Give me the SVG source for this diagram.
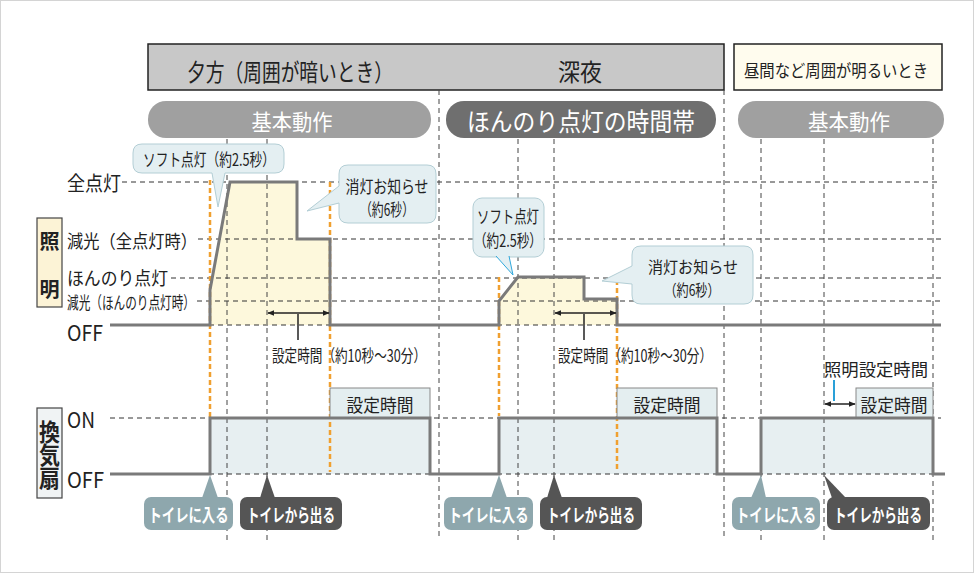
<svg xmlns="http://www.w3.org/2000/svg" width="976" height="575" viewBox="0 0 976 575">
<defs>
<style>
.t{font-family:"Noto Sans CJK JP","Noto Sans",sans-serif;fill:#222;dominant-baseline:central}
.v{font-family:"Noto Sans CJK JP","Noto Sans",sans-serif;fill:#222;font-weight:bold;writing-mode:vertical-rl;text-anchor:middle}
.m{text-anchor:middle}
.w{fill:#fff}
.b{font-weight:bold}
.grid{stroke:#333;stroke-width:1;stroke-dasharray:5 4;fill:none}
.vgrid{stroke:#444;stroke-width:1;stroke-dasharray:5 4;fill:none}
.org{stroke:#f0a030;stroke-width:2.5;stroke-dasharray:5 3;fill:none}
.wave{stroke:#7a7a7a;stroke-width:3;fill:none}
.bal{fill:#e4eff2;stroke:#b3ced5;stroke-width:1}
.yel{fill:#fdf8dc}
.fan{fill:#e7eff1}
.tab{fill:#e4eef0;stroke:#888;stroke-width:1}
.in{fill:#8ea7ad}
.out{fill:#555}
.arr{stroke:#222;stroke-width:1.5;fill:none}
</style>
<marker id="ah" viewBox="0 0 10 10" refX="9" refY="5" markerWidth="7" markerHeight="7" orient="auto-start-reverse" markerUnits="userSpaceOnUse">
<path d="M0,1 L10,5 L0,9 Z" fill="#222"/>
</marker>
</defs>
<rect x="0.5" y="0.5" width="973" height="572" fill="#fff" stroke="#d4d4d4"/>

<g id="header">
<rect x="148" y="44" width="576" height="46" fill="#c8c8c8" stroke="#222" stroke-width="1.5"/>
<text class="t m" x="290" y="70" font-size="24" textLength="206" lengthAdjust="spacingAndGlyphs">夕方（周囲が暗いとき）</text>
<text class="t m" x="580" y="70" font-size="24" textLength="44" lengthAdjust="spacingAndGlyphs">深夜</text>
<rect x="734" y="44" width="208" height="46" fill="#fffcee" stroke="#222" stroke-width="1.5"/>
<text class="t m" x="836" y="69" font-size="17" textLength="184" lengthAdjust="spacingAndGlyphs">昼間など周囲が明るいとき</text>
</g>

<g id="pills">
<rect x="148" y="101" width="283" height="37" rx="18" fill="#a0a0a0"/>
<text class="t m w" x="292" y="120" font-size="22" textLength="81" lengthAdjust="spacingAndGlyphs">基本動作</text>
<rect x="446" y="101" width="270" height="37" rx="18" fill="#6f6f6f"/>
<text class="t m w" x="581" y="120" font-size="25" textLength="228" lengthAdjust="spacingAndGlyphs">ほんのり点灯の時間帯</text>
<rect x="738" y="101" width="206" height="37" rx="18" fill="#a0a0a0"/>
<text class="t m w" x="849" y="120" font-size="22" textLength="82" lengthAdjust="spacingAndGlyphs">基本動作</text>
</g>

<g id="fills">
<polygon class="yel" points="210,325 210,290 230,182 297,182 297,239 330,239 330,325"/>
<polygon class="yel" points="499,325 499,301 518,277 584,277 584,299 617,299 617,325"/>
<rect class="fan" x="210" y="418" width="220" height="56"/>
<rect class="fan" x="499" y="418" width="218" height="56"/>
<rect class="fan" x="761" y="418" width="172" height="56"/>
</g>

<g id="grid">
<line class="grid" x1="122" y1="182" x2="941" y2="182"/>
<line class="grid" x1="198" y1="239" x2="941" y2="239"/>
<line class="grid" x1="171" y1="278" x2="941" y2="278"/>
<line class="grid" x1="197" y1="301" x2="941" y2="301"/>
<line class="grid" x1="110" y1="325" x2="941" y2="325"/>
<line class="grid" x1="110" y1="418" x2="941" y2="418"/>
<line class="grid" x1="110" y1="474" x2="941" y2="474"/>
<line class="vgrid" x1="227" y1="139" x2="227" y2="540"/>
<line class="vgrid" x1="267" y1="139" x2="267" y2="540"/>
<line class="vgrid" x1="439" y1="90" x2="439" y2="540"/>
<line class="vgrid" x1="518" y1="139" x2="518" y2="540"/>
<line class="vgrid" x1="554" y1="139" x2="554" y2="540"/>
<line class="vgrid" x1="724" y1="90" x2="724" y2="540"/>
<line class="vgrid" x1="761" y1="139" x2="761" y2="540"/>
<line class="vgrid" x1="824" y1="139" x2="824" y2="540"/>
<line class="vgrid" x1="933" y1="139" x2="933" y2="540"/>
</g>

<g id="labels">
<text class="t" x="67" y="182" font-size="20" textLength="54" lengthAdjust="spacingAndGlyphs">全点灯</text>
<text class="t" x="67" y="240" font-size="18" textLength="130" lengthAdjust="spacingAndGlyphs">減光（全点灯時）</text>
<text class="t" x="67" y="277" font-size="18" textLength="101" lengthAdjust="spacingAndGlyphs">ほんのり点灯</text>
<text class="t" x="67" y="301" font-size="17" textLength="128" lengthAdjust="spacingAndGlyphs">減光（ほんのり点灯時）</text>
<text class="t" x="67" y="332" font-size="21" textLength="36" lengthAdjust="spacingAndGlyphs">OFF</text>
<text class="t" x="67" y="419" font-size="21" textLength="28" lengthAdjust="spacingAndGlyphs">ON</text>
<text class="t" x="67" y="479" font-size="21" textLength="37" lengthAdjust="spacingAndGlyphs">OFF</text>
</g>

<g id="lightBox">
<rect x="37" y="218" width="25" height="89" fill="#fcf3d6" stroke="#444" stroke-width="1.2"/>
<text class="v" x="49.5" y="265" font-size="20" textLength="68" lengthAdjust="spacing">照明</text>
</g>
<g id="fanBox">
<rect x="37" y="408" width="25" height="90" fill="#f0f3f4" stroke="#444" stroke-width="1.2"/>
<text class="v" x="49.5" y="455" font-size="21" textLength="70" lengthAdjust="spacingAndGlyphs">換気扇</text>
</g>

<g id="orange">
<line class="org" x1="210" y1="180" x2="210" y2="417"/>
<line class="org" x1="330" y1="182" x2="330" y2="472"/>
<line class="org" x1="499" y1="277" x2="499" y2="416"/>
<line class="org" x1="617" y1="280" x2="617" y2="472"/>
</g>

<g id="tabs">
<rect class="tab" x="330" y="388" width="100" height="30"/>
<text class="t m" x="380" y="404" font-size="18" textLength="67" lengthAdjust="spacingAndGlyphs">設定時間</text>
<rect class="tab" x="617" y="388" width="100" height="30"/>
<text class="t m" x="667" y="404" font-size="18" textLength="67" lengthAdjust="spacingAndGlyphs">設定時間</text>
<rect class="tab" x="856" y="388" width="77" height="30"/>
<text class="t m" x="894" y="404" font-size="18" textLength="67" lengthAdjust="spacingAndGlyphs">設定時間</text>
</g>

<g id="connectors">
<path class="wave" d="M110,325 H210 V290 L230,182 H297 V239 H330 V325 H499 V301 L518,277 H584 V299 H617 V325 H941"/>
<path class="wave" d="M110,474 H210 V418 H430 V474 H499 V418 H717 V474 H761 V418 H933 V474 H945"/>
<line class="arr" x1="268" y1="313" x2="329" y2="313" marker-start="url(#ah)" marker-end="url(#ah)"/>
<line class="arr" x1="298" y1="314" x2="298" y2="340"/>
<line class="arr" x1="555" y1="313" x2="616" y2="313" marker-start="url(#ah)" marker-end="url(#ah)"/>
<line class="arr" x1="584" y1="314" x2="584" y2="340"/>
<line class="arr" x1="825" y1="404" x2="855" y2="404" marker-start="url(#ah)" marker-end="url(#ah)"/>
<line x1="834" y1="380" x2="834" y2="401" stroke="#2aa0d8" stroke-width="2"/>
</g>

<g id="setTimeLabels">
<text class="t" x="272" y="354" font-size="17" textLength="154" lengthAdjust="spacingAndGlyphs">設定時間（約10秒～30分）</text>
<text class="t" x="558" y="354" font-size="17" textLength="154" lengthAdjust="spacingAndGlyphs">設定時間（約10秒～30分）</text>
<text class="t m" x="876" y="368" font-size="17" textLength="104" lengthAdjust="spacingAndGlyphs">照明設定時間</text>
</g>

<g id="balloon1">
<path class="bal" d="M142,144 H275 Q284,144 284,153 V164 Q284,173 275,173 H225 L218,207 L212,173 H142 Q133,173 133,164 V153 Q133,144 142,144 Z"/>
<text class="t m" x="209" y="158" font-size="17" textLength="132" lengthAdjust="spacingAndGlyphs">ソフト点灯（約2.5秒）</text>
</g>
<g id="balloon2">
<path class="bal" d="M348,165 H427 Q436,165 436,174 V214 Q436,223 427,223 H348 Q339,223 339,214 V203 L307,211 L339,186 V174 Q339,165 348,165 Z"/>
<text class="t m" x="387" y="185" font-size="17" textLength="83" lengthAdjust="spacingAndGlyphs">消灯お知らせ</text>
<text class="t m" x="387" y="208" font-size="17" textLength="54" lengthAdjust="spacingAndGlyphs">（約6秒）</text>
</g>
<g id="balloon3">
<rect class="bal" x="473" y="198" width="71" height="59" rx="9"/>
<polyline points="496,256 513,275 509,256" fill="#e4eff2" stroke="#30a8dc" stroke-width="1"/>
<text class="t m" x="508" y="215" font-size="17" textLength="62" lengthAdjust="spacingAndGlyphs">ソフト点灯</text>
<text class="t m" x="508" y="239" font-size="17" textLength="68" lengthAdjust="spacingAndGlyphs">（約2.5秒）</text>
</g>
<g id="balloon4">
<path class="bal" d="M641,246 H744 Q753,246 753,255 V295 Q753,304 744,304 H641 Q632,304 632,295 V284 L602,281 L632,266 V255 Q632,246 641,246 Z"/>
<text class="t m" x="693" y="266" font-size="16" textLength="90" lengthAdjust="spacingAndGlyphs">消灯お知らせ</text>
<text class="t m" x="692" y="289" font-size="16" textLength="55" lengthAdjust="spacingAndGlyphs">（約6秒）</text>
</g>

<g id="enter1">
<polygon class="in" points="202,498 210,475 218,498"/>
<rect class="in" x="144" y="497" width="89" height="33" rx="7"/>
<text class="t m w b" x="188.5" y="514" font-size="18" textLength="80" lengthAdjust="spacingAndGlyphs">トイレに入る</text>
</g>
<g id="exit1">
<polygon class="out" points="260,498 267,475 275,498"/>
<rect class="out" x="240" y="497" width="102" height="33" rx="7"/>
<text class="t m w b" x="291" y="514" font-size="18" textLength="88" lengthAdjust="spacingAndGlyphs">トイレから出る</text>
</g>
<g id="enter2">
<polygon class="in" points="491,498 499,475 507,498"/>
<rect class="in" x="444" y="497" width="89" height="33" rx="7"/>
<text class="t m w b" x="488.5" y="514" font-size="18" textLength="80" lengthAdjust="spacingAndGlyphs">トイレに入る</text>
</g>
<g id="exit2">
<polygon class="out" points="547,498 554,475 562,498"/>
<rect class="out" x="540" y="497" width="102" height="33" rx="7"/>
<text class="t m w b" x="591" y="514" font-size="18" textLength="88" lengthAdjust="spacingAndGlyphs">トイレから出る</text>
</g>
<g id="enter3">
<polygon class="in" points="751,498 761,475 766,498"/>
<rect class="in" x="732" y="497" width="88" height="33" rx="7"/>
<text class="t m w b" x="776" y="514" font-size="18" textLength="80" lengthAdjust="spacingAndGlyphs">トイレに入る</text>
</g>
<g id="exit3">
<polygon class="out" points="832,498 824,475 846,498"/>
<rect class="out" x="827" y="497" width="103" height="33" rx="7"/>
<text class="t m w b" x="878" y="514" font-size="18" textLength="88" lengthAdjust="spacingAndGlyphs">トイレから出る</text>
</g>
</svg>
